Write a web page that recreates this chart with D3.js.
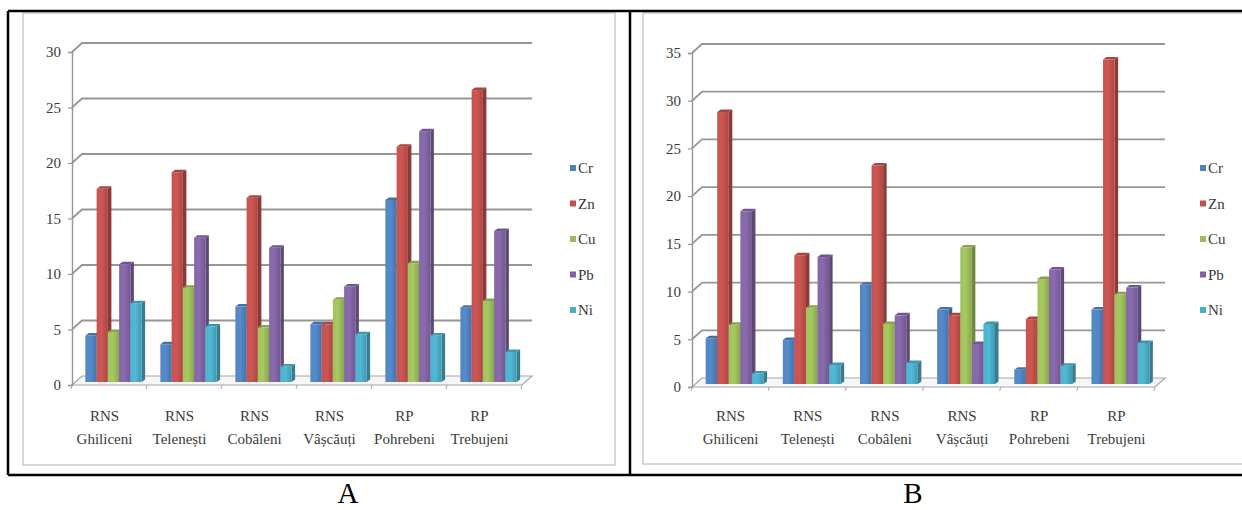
<!DOCTYPE html>
<html><head><meta charset="utf-8">
<script src="https://cdn.jsdelivr.net/npm/d3@7"></script>
<style>body{margin:0;background:#fff}svg{display:block}text{font-family:"Liberation Serif","Times New Roman",serif}</style>
</head><body><svg id="c" width="1242" height="510"></svg>
<script>
const categories = ["RNS Ghiliceni","RNS Telenești","RNS Cobâleni","RNS Vâșcăuți","RP Pohrebeni","RP Trebujeni"];
const seriesNames = ["Cr","Zn","Cu","Pb","Ni"];
const seriesColors = ["#4F81BD","#C0504D","#9BBB59","#8064A2","#4BACC6"];
const ticksA = [0,5,10,15,20,25,30];
const ticksB = [0,5,10,15,20,25,30,35];
// Chart A values
const crA = [4.2, 3.4, 6.8, 5.2, 16.4, 6.7];
const znA = [17.4, 18.9, 16.6, 5.2, 21.2, 26.3];
const cuA = [4.5, 8.5, 4.9, 7.4, 10.7, 7.3];
const pbA = [10.6, 13.0, 12.1, 8.6, 22.6, 13.6];
const niA = [7.1, 5.0, 1.4, 4.3, 4.2, 2.7];
// Chart B values
const crB = [4.8, 4.6, 10.4, 7.8, 1.5, 7.8];
const znB = [28.5, 13.5, 22.9, 7.2, 6.8, 34.0];
const cuB = [6.2, 8.0, 6.3, 14.3, 11.0, 9.4];
const pbB = [18.1, 13.3, 7.2, 4.2, 12.0, 10.1];
const niB = [1.1, 2.0, 2.2, 6.3, 1.9, 4.3];
const panelLetters = ["A","B"];

const svg = d3.select("#c");
const FONT = "Liberation Serif, Times New Roman, serif";
const defs = svg.append("defs");
seriesColors.forEach((c, i) => {
  const g = defs.append("linearGradient").attr("id", "grad" + i)
    .attr("x1", "0").attr("x2", "1").attr("y1", "0").attr("y2", "0");
  g.append("stop").attr("offset", "0").attr("stop-color", d3.color(c).brighter(0.1));
  g.append("stop").attr("offset", "0.45").attr("stop-color", d3.color(c).brighter(0.2));
  g.append("stop").attr("offset", "1").attr("stop-color", d3.color(c).darker(0.35));
});

// chart frames (grey)
svg.append("rect").attr("x", 23).attr("y", 13).attr("width", 592).attr("height", 452)
  .attr("fill", "#fff").attr("stroke", "#c4c4c4").attr("stroke-width", 1.3);
svg.append("rect").attr("x", 643).attr("y", 13).attr("width", 640).attr("height", 451)
  .attr("fill", "#fff").attr("stroke", "#c4c4c4").attr("stroke-width", 1.3);

const DX = 10, DY = -9;       // back wall offset
const OX = 4, OY = -3;        // bar front-face offset from front plane
const SX = 3.5, SY = -2.5;    // bar depth

function drawChart(cfg) {
  const g = svg.append("g");
  const y = d3.scaleLinear().domain([0, d3.max(cfg.ticks)]).range([cfg.y0, cfg.y1]);
  const x = d3.scaleBand().domain(categories).range([cfg.x0, cfg.x1])
    .paddingInner(0.25).paddingOuter(0.125);
  const inner = d3.scaleBand().domain(seriesNames).range([0, x.bandwidth()]);

  // floor
  g.append("path")
    .attr("d", `M${cfg.x0},${y(0)} L${cfg.x1},${y(0)} L${cfg.x1 + DX},${y(0) + DY} L${cfg.x0 + DX},${y(0) + DY} Z`)
    .attr("fill", "#f6f6f6").attr("stroke", "#a6a6a6").attr("stroke-width", 1.2);

  // gridlines on back wall with side-wall connectors
  g.selectAll(".grid").data(cfg.ticks.filter(t => t > 0)).join("path")
    .attr("d", t => `M${cfg.x0},${y(t)} L${cfg.x0 + DX},${y(t) + DY} L${cfg.x1 + DX},${y(t) + DY}`)
    .attr("fill", "none").attr("stroke", "#969696").attr("stroke-width", 1.8);

  // y axis
  const ax = g.append("g").attr("transform", `translate(${cfg.x0},0)`)
    .call(d3.axisLeft(y).tickValues(cfg.ticks).tickSize(4).tickPadding(7));
  ax.attr("font-family", FONT);
  ax.select(".domain").attr("stroke", "#969696").attr("stroke-width", 1.4);
  ax.selectAll(".tick line").attr("stroke", "#969696").attr("stroke-width", 1.2);
  ax.selectAll(".tick text").style("font-family", FONT).attr("font-size", 15).attr("fill", "#3a3a3a");

  // category tick marks on floor front edge
  const bounds = categories.map(c => x(c) - x.step() * x.paddingInner() / 2).concat([cfg.x1]);
  g.selectAll(".xt").data(bounds).join("line")
    .attr("x1", d => d).attr("x2", d => d - 1).attr("y1", y(0)).attr("y2", y(0) + 4)
    .attr("stroke", "#a6a6a6").attr("stroke-width", 1);

  // bars
  categories.forEach((c, ci) => {
    seriesNames.forEach((s, si) => {
      const v = cfg.values[si][ci];
      const fx = x(c) + inner(s) + OX;
      const w = inner.bandwidth();
      const top = y(v) + OY, bot = y(0) + OY;
      const col = d3.color(seriesColors[si]);
      const bg = g.append("g");
      bg.append("path")
        .attr("d", `M${fx + w},${top} L${fx + w + SX},${top + SY} L${fx + w + SX},${bot + SY} L${fx + w},${bot} Z`)
        .attr("fill", col.darker(0.9));
      bg.append("path")
        .attr("d", `M${fx},${top} L${fx + SX},${top + SY} L${fx + w + SX},${top + SY} L${fx + w},${top} Z`)
        .attr("fill", col.darker(0.4));
      bg.append("rect").attr("x", fx).attr("y", top).attr("width", w).attr("height", bot - top)
        .attr("fill", `url(#grad${si})`);
    });
  });

  // category labels
  const lab = g.selectAll(".lab").data(categories).join("text")
    .style("font-family", FONT).attr("font-size", 15).attr("fill", "#3a3a3a")
    .attr("text-anchor", "middle");
  lab.append("tspan").attr("x", c => x(c) + x.bandwidth() / 2 + cfg.labelShift).attr("y", 421)
    .text(c => c.slice(0, c.indexOf(" ")));
  lab.append("tspan").attr("x", c => x(c) + x.bandwidth() / 2 + cfg.labelShift).attr("y", 444)
    .text(c => c.slice(c.indexOf(" ") + 1));

  // legend
  const lg = g.selectAll(".lg").data(seriesNames).join("g")
    .attr("transform", (d, i) => `translate(${cfg.legendX},${cfg.legendY + i * 35.5})`);
  lg.append("rect").attr("x", 0).attr("y", -3).attr("width", 6).attr("height", 6)
    .attr("fill", (d, i) => seriesColors[i]);
  lg.append("text").attr("x", 8).attr("y", 5).style("font-family", FONT).attr("font-size", 15)
    .attr("fill", "#3a3a3a").text(d => d);

  // panel letter
  svg.append("text").attr("x", cfg.letterX).attr("y", 503).attr("text-anchor", "middle")
    .style("font-family", FONT).attr("font-size", 29).attr("fill", "#000").text(cfg.letter);
}

drawChart({values: [crA, znA, cuA, pbA, niA], ticks: ticksA, x0: 72, x1: 522, y0: 385, y1: 52,
  legendX: 570, legendY: 168, labelShift: -5, letterX: 348, letter: panelLetters[0]});
drawChart({values: [crB, znB, cuB, pbB, niB], ticks: ticksB, x0: 692, x1: 1155, y0: 387, y1: 53,
  legendX: 1200, legendY: 168, labelShift: 0, letterX: 913, letter: panelLetters[1]});

// black outer borders
const bl = [[8, 11, 1242, 11], [8, 11, 8, 475], [8, 475, 1242, 475], [630, 11, 630, 475]];
svg.selectAll(".bl").data(bl).join("line")
  .attr("x1", d => d[0]).attr("y1", d => d[1]).attr("x2", d => d[2]).attr("y2", d => d[3])
  .attr("stroke", "#000").attr("stroke-width", 2.5);
</script></body></html>
